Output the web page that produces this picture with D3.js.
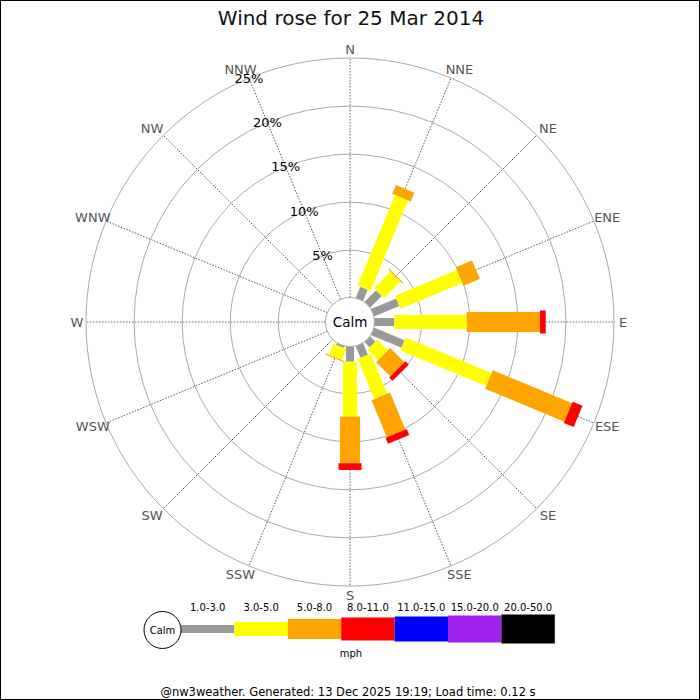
<!DOCTYPE html>
<html>
<head>
<meta charset="utf-8">
<script src="https://cdn.jsdelivr.net/npm/d3@7"></script>
<style>
  html, body { margin: 0; padding: 0; background: #fff; }
  svg { display: block; font-family: "DejaVu Sans", sans-serif; }
</style>
</head>
<body>
<svg id="chart" width="700" height="700"></svg>
<script>
// ---- Data ----
const title = "Wind rose for 25 Mar 2014";
const footer = "@nw3weather. Generated: 13 Dec 2025 19:19; Load time: 0.12 s";
const directions = ["N","NNE","NE","ENE","E","ESE","SE","SSE","S","SSW","SW","WSW","W","WNW","NW","NNW"];
const speedBins = ["1.0-3.0","3.0-5.0","5.0-8.0","8.0-11.0","11.0-15.0","15.0-20.0","20.0-50.0"];
const binColors = ["#999999","#ffff00","#ffa500","#ff0000","#0000ff","#a020f0","#000000"];
// percent of time per direction, by speed bin
const pct1to3   = [0, 1.35, 1.80, 2.93, 2.15, 3.51, 0.87, 1.40, 1.67, 0.30, 0, 0, 0, 0, 0, 0];
const pct3to5   = [0,10.20, 2.44, 6.96, 7.53, 9.68, 1.55, 4.51, 5.72, 1.24, 0, 0, 0, 0, 0, 0];
const pct5to8   = [0, 0.98, 0.11, 1.83, 7.62, 8.92, 2.08, 4.18, 4.84, 0.11, 0, 0, 0, 0, 0, 0];
const pct8to11  = [0, 0,    0,    0,    0.60, 1.11, 0.49, 0.67, 0.70, 0,    0, 0, 0, 0, 0, 0];
const pct11to15 = [0,0,0,0,0,0,0,0,0,0,0,0,0,0,0,0];
const pct15to20 = [0,0,0,0,0,0,0,0,0,0,0,0,0,0,0,0];
const pct20to50 = [0,0,0,0,0,0,0,0,0,0,0,0,0,0,0,0];
const ringTicks = [5, 10, 15, 20, 25];
const unitLabel = "mph";

const series = [pct1to3, pct3to5, pct5to8, pct8to11, pct11to15, pct15to20, pct20to50];

// ---- Layout ----
const W = 700, H = 700, cx = 350, cy = 322;
const calmR = 24.5;
const barWidths = [8, 14, 20, 23, 25, 27, 29];
const r = d3.scaleLinear().domain([0, 25]).range([23.6, 264]);
const angle = d3.scaleLinear().domain([0, directions.length]).range([0, 360]);

const svg = d3.select("#chart");
svg.append("rect").attr("x",0.5).attr("y",0.5).attr("width",W-1).attr("height",H-1)
  .attr("fill","#fff").attr("stroke","#000").attr("stroke-width",1);

svg.append("text").attr("x", 351).attr("y", 24.5).attr("text-anchor","middle")
  .attr("font-size", 20).attr("fill","#111").text(title);

const g = svg.append("g").attr("transform", `translate(${cx},${cy})`);

// rings
g.selectAll("circle.ring").data(ringTicks).join("circle")
  .attr("class","ring").attr("r", d => r(d))
  .attr("fill","none").attr("stroke","#aaa").attr("stroke-width",1);

// radial lines
g.selectAll("line.spoke").data(directions).join("line")
  .attr("class","spoke")
  .attr("transform",(d,i)=>`rotate(${angle(i)})`)
  .attr("x1",0).attr("x2",0).attr("y1",-calmR).attr("y2",-r(25))
  .attr("stroke","#444").attr("stroke-width",0.8).attr("stroke-dasharray","1.5,1.5");

// bars
directions.forEach((dir, i) => {
  let cum = 0;
  const bg = g.append("g").attr("transform", `rotate(${angle(i)})`);
  series.forEach((s, k) => {
    const v = s[i];
    if (v > 0) {
      const r0 = r(cum), r1 = r(cum + v);
      bg.append("rect")
        .attr("x", -barWidths[k]/2).attr("width", barWidths[k])
        .attr("y", -r1).attr("height", r1 - r0)
        .attr("fill", binColors[k]);
      cum += v;
    }
  });
});

// calm circle
g.append("circle").attr("r", calmR).attr("fill","#fff").attr("stroke","#aaa").attr("stroke-width",1);
g.append("text").attr("x",0).attr("y",0).attr("text-anchor","middle").attr("dominant-baseline","central")
  .attr("font-size",13.5).attr("fill","#000").text("Calm");

// percentage labels along NNW
const labAng = angle(15) * Math.PI / 180;
g.selectAll("text.pct").data(ringTicks).join("text")
  .attr("class","pct")
  .attr("x", d => r(d) * Math.sin(labAng))
  .attr("y", d => -r(d) * Math.cos(labAng))
  .attr("text-anchor","middle").attr("dominant-baseline","central")
  .attr("font-size",13).attr("fill","#000").text(d => d + "%");

// direction labels
const labR = 273;
g.selectAll("text.dir").data(directions).join("text")
  .attr("class","dir")
  .attr("x", (d,i) => {
    const a = angle(i) * Math.PI / 180, s = Math.sin(a), c = Math.cos(a);
    const extra = (Math.abs(s) > 0.01 && Math.abs(c) > 0.01) ? 5 * Math.sign(s) : 0;
    return labR * s + extra;
  })
  .attr("y", (d,i) => -labR * Math.cos(angle(i) * Math.PI / 180))
  .attr("text-anchor","middle").attr("dominant-baseline","central")
  .attr("font-size",13).attr("fill","#555").text(d => d);

// legend
const legY = 629, legX0 = 181, segW = 53.4;
const legHeights = [8, 14, 20, 23, 25, 27, 29];
const lx = d3.scaleBand().domain(speedBins).range([legX0, legX0 + segW * speedBins.length]).padding(0);
const leg = svg.append("g");
leg.selectAll("rect").data(speedBins).join("rect")
  .attr("x", d => lx(d)).attr("width", lx.bandwidth())
  .attr("y", (d,k) => legY - legHeights[k]/2).attr("height", (d,k) => legHeights[k])
  .attr("fill", (d,k) => binColors[k]);
leg.selectAll("text").data(speedBins).join("text")
  .attr("x", d => lx(d) + lx.bandwidth()/2).attr("y", 611)
  .attr("text-anchor","middle").attr("font-size",10).attr("fill","#000").text(d => d);
leg.append("circle").attr("cx", 162.5).attr("cy", 630).attr("r", 18.5)
  .attr("fill","#fff").attr("stroke","#000").attr("stroke-width",1);
leg.append("text").attr("x",162.5).attr("y",630).attr("text-anchor","middle").attr("dominant-baseline","central")
  .attr("font-size",10).attr("fill","#000").text("Calm");
leg.append("text").attr("x", 351).attr("y", 657).attr("text-anchor","middle")
  .attr("font-size",10).attr("fill","#000").text(unitLabel);

svg.append("text").attr("x", 348).attr("y", 696).attr("text-anchor","middle")
  .attr("font-size",11.5).attr("fill","#000").text(footer);
</script>
</body>
</html>
